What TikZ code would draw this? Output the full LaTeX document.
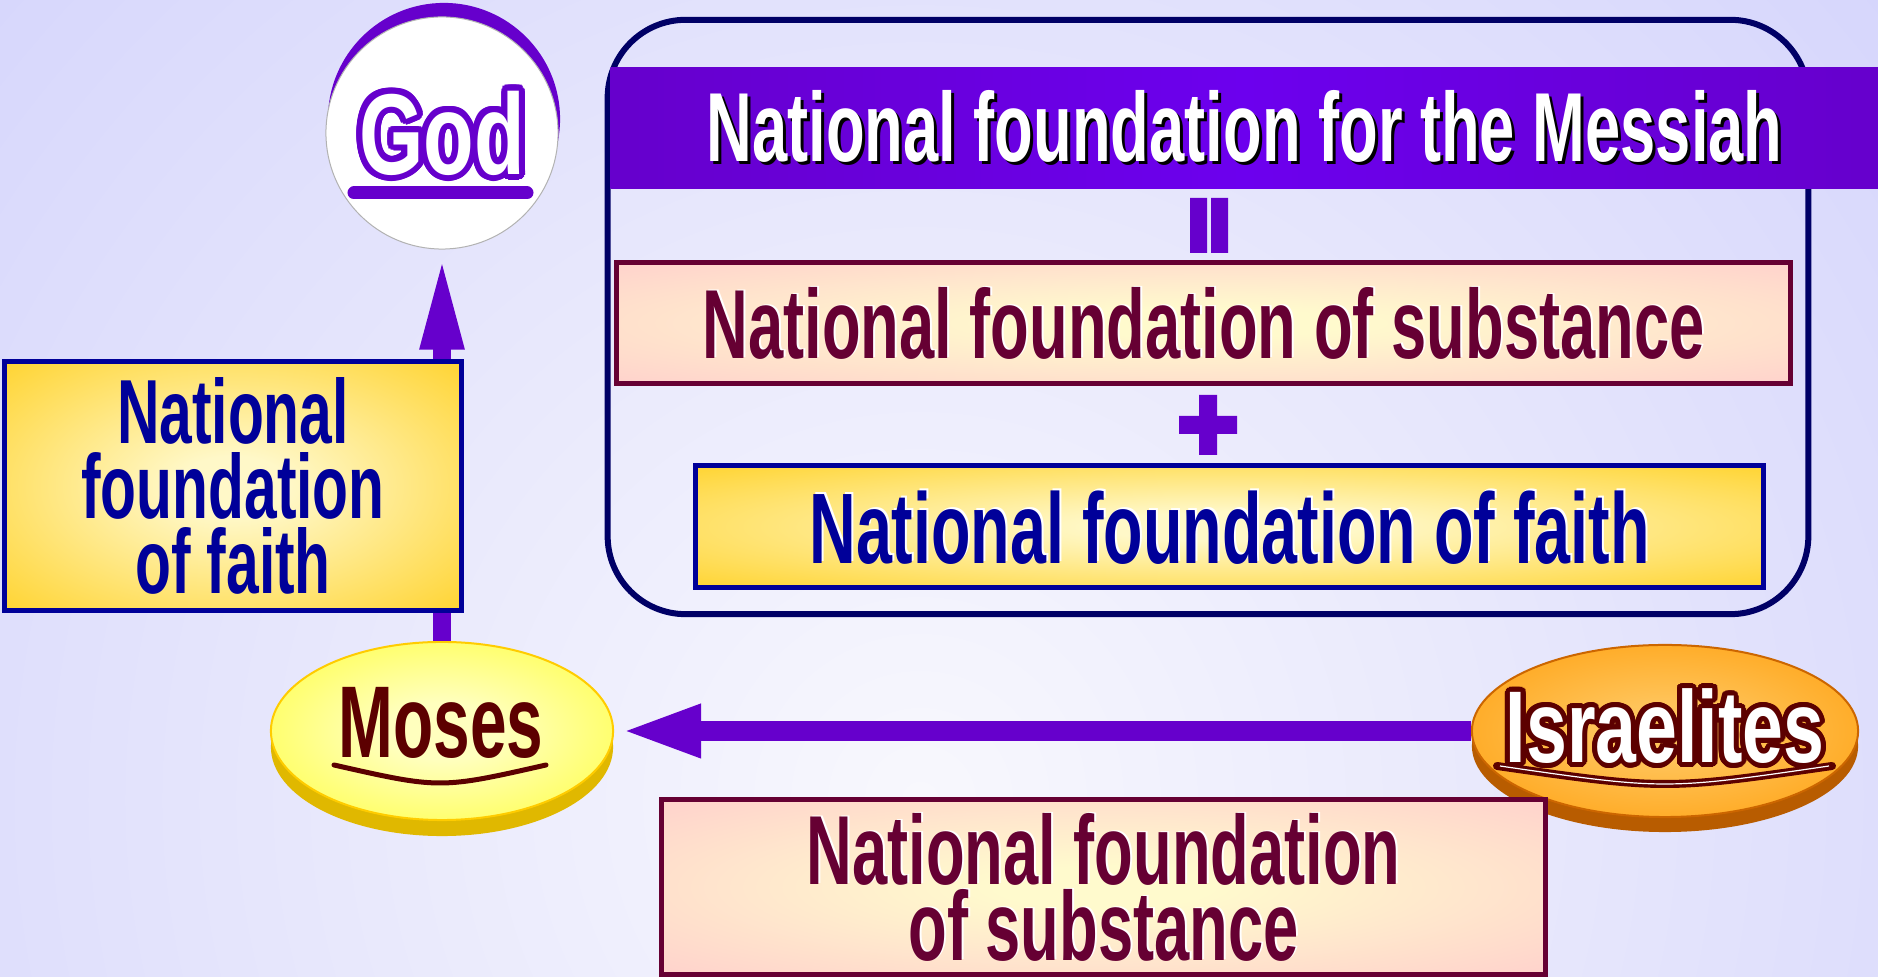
\documentclass[tikz,border=0pt]{standalone}
\usepackage{fontspec}
\newfontfamily\slimfont{Liberation Sans}[FakeStretch=0.645]
\newfontfamily\broadfont{Liberation Sans}[FakeStretch=0.72]
\usetikzlibrary{arrows.meta,shapes.geometric,shadows}

\definecolor{bgout}{RGB}{202,202,251}
\definecolor{bgin}{RGB}{248,248,253}
\definecolor{messiah}{RGB}{102,0,204}
\definecolor{messiahlight}{RGB}{108,0,238}
\definecolor{faithblue}{RGB}{0,0,153}
\definecolor{framenavy}{RGB}{0,0,102}
\definecolor{substred}{RGB}{102,0,51}
\definecolor{mosesred}{RGB}{92,0,0}
\definecolor{boxgold}{RGB}{255,204,17}
\definecolor{goldcream}{RGB}{255,248,200}
\definecolor{boxpink}{RGB}{255,204,204}
\definecolor{pinkcream}{RGB}{255,250,205}
\definecolor{mosesyellow}{RGB}{255,255,51}
\definecolor{mosescream}{RGB}{255,255,190}
\definecolor{mosesedge}{RGB}{255,204,0}
\definecolor{mosesrim}{RGB}{224,184,0}
\definecolor{israorange}{RGB}{255,153,0}
\definecolor{isracream}{RGB}{255,196,90}
\definecolor{israedge}{RGB}{204,102,0}
\definecolor{israrim}{RGB}{184,92,0}

\pgfdeclareradialshading{goldglow}{\pgfpoint{0bp}{0bp}}{color(0bp)=(goldcream); color(6bp)=(goldcream); color(42bp)=(boxgold); color(72bp)=(boxgold)}
\pgfdeclareradialshading{pinkglow}{\pgfpoint{0bp}{0bp}}{color(0bp)=(pinkcream); color(6bp)=(pinkcream); color(40bp)=(boxpink); color(72bp)=(boxpink)}
\pgfdeclareradialshading{mosesglow}{\pgfpoint{0bp}{0bp}}{color(0bp)=(mosescream); color(8bp)=(mosescream); color(38bp)=(mosesyellow); color(72bp)=(mosesyellow)}
\pgfdeclareradialshading{israglow}{\pgfpoint{0bp}{0bp}}{color(0bp)=(isracream); color(8bp)=(isracream); color(40bp)=(israorange); color(72bp)=(israorange)}

\newcommand\dropshadow[4]{\leavevmode\rlap{\hspace*{#1}\raisebox{#2}{\color{#3}#4}}#4}
\newcommand\embossed[1]{\dropshadow{0.02cm}{0.015cm}{white}{#1}}
\newcommand\ringtext[3]{\leavevmode\rlap{\color{#1}\foreach\ang in {0,15,...,345}{\pgfmathsetlengthmacro\ringx{#2*cos(\ang)}\pgfmathsetlengthmacro\ringy{#2*sin(\ang)}\rlap{\hspace*{\ringx}\raisebox{\ringy}{#3}}}}#3}

\begin{document}
\begin{tikzpicture}[x=0.01cm, y=-0.01cm,
    box/.style={draw, line width=0.05cm, shade, inner sep=0pt, align=center},
    faith/.style={box, draw=faithblue, shading=goldglow, text=faithblue},
    subst/.style={box, draw=substred, shading=pinkglow, text=substred},
    disc/.style={ellipse, shade, line width=0.02cm, inner sep=0pt},
    link/.style={draw=messiah},
    big/.style={font=\slimfont\bfseries\fontsize{27.9}{21.6}\selectfont}]
  \useasboundingbox (0,0) rectangle (1878,977);
  \fill[bgout] (0,0) rectangle (1878,977);
  \begin{scope}
    \clip (0,0) rectangle (1878,977);
    \shade[inner color=bgin, outer color=bgout] (920,800) circle (17cm);
  \end{scope}

  % right: foundation for the Messiah
  \node[draw=framenavy, line width=0.06cm, rounded corners=0.78cm, minimum width=12cm, minimum height=5.94cm] (frame) at (1208,317) {};
  \node[shade, left color=messiah, right color=messiah, middle color=messiahlight, inner sep=0pt,
    minimum width=12.67cm, minimum height=1.2cm, text=white, big] (title) at (1244.5,128)
    {\dropshadow{0.03cm}{-0.03cm}{black}{National foundation for the Messiah}};
  \node[subst, big, minimum width=11.73cm, minimum height=1.2cm] (substbox) at (1203.5,323) {\embossed{National foundation of substance}};
  \node[faith, font=\slimfont\bfseries\fontsize{28.5}{28.5}\selectfont, minimum width=10.67cm, minimum height=1.21cm] (faithbox) at (1229.5,526.5) {\embossed{National foundation of faith}};
  \fill[messiah] (1190,198) rectangle (1207,253) (1211,198) rectangle (1228,253);
  \fill[messiah] (1179,416) rectangle (1237,434) (1199,395) rectangle (1217,455);

  % left: Moses to God
  \node[circle, minimum size=2.32cm, fill=white, draw=gray!60, line width=0.01cm,
    copy shadow={shadow xshift=0.02cm, shadow yshift=0.14cm, fill=messiah, draw=none}] (god) at (442,133) {};
  \node[text=white, font=\broadfont\bfseries\fontsize{32.7}{32.7}\selectfont] (godname) at (god) {\ringtext{messiah}{0.06cm}{God}};
  \draw[messiah, line width=0.13cm, line cap=round] (354,193) -- (527,193);
  \node[disc, minimum width=3.42cm, minimum height=1.78cm, draw=mosesedge, shading=mosesglow,
    copy shadow={shadow xshift=0cm, shadow yshift=-0.16cm, fill=mosesrim, draw=none}] (moses) at (442,731) {};
  \node[text=mosesred, font=\slimfont\bfseries\fontsize{29}{29}\selectfont] (mosesname) at (441,723) {Moses};
  \draw[mosesred, line width=0.05cm, line cap=round] (334,765) .. controls (440,789) .. (546,765);
  \draw[link, line width=0.17cm, -{Triangle[length=0.93cm, width=0.40cm]}, shorten >=0.07cm] (moses.north) -- (god.south);
  \node[faith, minimum width=4.56cm, minimum height=2.49cm, font=\slimfont\bfseries\fontsize{25.9}{21.3}\selectfont] (leftfaith) at (233,486)
    {National\\foundation\\of faith};

  % Israelites to Moses
  \node[disc, minimum width=3.86cm, minimum height=1.72cm, draw=israedge, shading=israglow,
    copy shadow={shadow xshift=0cm, shadow yshift=-0.15cm, fill=israrim, draw=none}] (israel) at (1665,731) {};
  \node[text=white, font=\broadfont\bfseries\fontsize{29}{29}\selectfont] (israelname) at (1665,726) {\ringtext{mosesred}{0.05cm}{Israelites}};
  \draw[mosesred, line width=0.08cm, line cap=round] (1497,766) .. controls (1665,790) .. (1832,766);
  \draw[white, line width=0.012cm] (1500,766) .. controls (1665,790) .. (1829,766);
  \draw[link, line width=0.2cm, -{Triangle[length=0.81cm, width=0.48cm]}, shorten >=0.06cm] (israel.west) -- (moses.east);
  \node[subst, big, minimum width=8.83cm, minimum height=1.74cm] (bottomsubst) at (1103.5,887)
    {\embossed{National foundation}\\\embossed{of substance}};
\end{tikzpicture}
\end{document}
